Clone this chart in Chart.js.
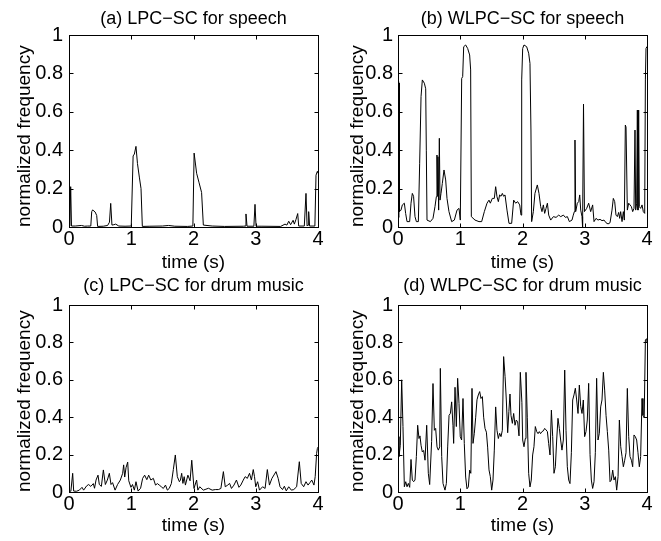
<!DOCTYPE html>
<html>
<head>
<meta charset="utf-8">
<title>LPC-SC vs WLPC-SC</title>
<script src="https://cdn.jsdelivr.net/npm/chart.js@4.4.0/dist/chart.umd.min.js"></script>
<style>
  html, body { margin: 0; padding: 0; background: #fff; }
  #wrap { position: relative; width: 661px; height: 541px; overflow: hidden; }
  canvas { position: absolute; }
</style>
</head>
<body>
<div id="wrap">
  <canvas id="plotA" width="330" height="275" style="left:0;top:0"></canvas>
  <canvas id="plotB" width="331" height="275" style="left:330px;top:0"></canvas>
  <canvas id="plotC" width="330" height="271" style="left:0;top:270px"></canvas>
  <canvas id="plotD" width="331" height="271" style="left:330px;top:270px"></canvas>
</div>
<script>
// tick labels
const xTicks = [0, 1, 2, 3, 4];
const yTicks = [0, 0.2, 0.4, 0.6, 0.8, 1];

// (a) LPC-SC for speech
const speechLpcTime = [0, 0.015, 0.027, 0.04, 0.1, 0.2, 0.25, 0.3, 0.35, 0.365, 0.38, 0.42, 0.445, 0.46, 0.55, 0.62, 0.65, 0.67, 0.69, 0.72, 0.75, 0.8, 0.9, 1.0, 1.03, 1.05, 1.076, 1.1, 1.13, 1.157, 1.178, 1.3, 1.5, 1.6, 1.7, 1.9, 1.99, 2.01, 2.05, 2.09, 2.13, 2.158, 2.3, 2.5, 2.8, 2.83, 2.843, 2.86, 2.97, 2.988, 3.005, 3.1, 3.4, 3.47, 3.5, 3.53, 3.56, 3.6, 3.62, 3.647, 3.674, 3.69, 3.78, 3.807, 3.825, 3.84, 3.85, 3.865, 3.95, 3.968, 3.99, 4.0];
const speechLpcValue = [0.005, 0.01, 0.21, 0.005, 0.005, 0.008, 0.004, 0.005, 0.005, 0.08, 0.089, 0.078, 0.06, 0.003, 0.004, 0.008, 0.025, 0.123, 0.01, 0.012, 0.015, 0.005, 0.004, 0.005, 0.37, 0.38, 0.42, 0.33, 0.26, 0.2, 0.003, 0.004, 0.005, 0.008, 0.004, 0.003, 0.005, 0.385, 0.28, 0.23, 0.18, 0.01, 0.005, 0.003, 0.004, 0.005, 0.068, 0.004, 0.004, 0.118, 0.004, 0.004, 0.003, 0.015, 0.01, 0.03, 0.012, 0.035, 0.015, 0.04, 0.07, 0.005, 0.005, 0.175, 0.005, 0.01, 0.08, 0.005, 0.005, 0.27, 0.29, 0.28];

// (b) WLPC-SC for speech
const speechWlpcTime = [0, 0.005, 0.012, 0.016, 0.02, 0.024, 0.048, 0.07, 0.102, 0.123, 0.145, 0.187, 0.209, 0.23, 0.25, 0.273, 0.295, 0.327, 0.348, 0.37, 0.391, 0.423, 0.445, 0.455, 0.466, 0.52, 0.562, 0.594, 0.616, 0.626, 0.637, 0.642, 0.653, 0.664, 0.675, 0.691, 0.712, 0.739, 0.766, 0.787, 0.819, 0.862, 0.905, 0.948, 0.98, 1.001, 1.023, 1.039, 1.055, 1.087, 1.119, 1.151, 1.167, 1.178, 1.237, 1.301, 1.344, 1.387, 1.43, 1.462, 1.483, 1.515, 1.547, 1.569, 1.59, 1.612, 1.633, 1.655, 1.676, 1.697, 1.719, 1.751, 1.783, 1.826, 1.858, 1.89, 1.922, 1.955, 1.976, 1.987, 2.003, 2.024, 2.067, 2.099, 2.12, 2.136, 2.147, 2.174, 2.2, 2.238, 2.265, 2.292, 2.313, 2.335, 2.356, 2.378, 2.4, 2.421, 2.453, 2.496, 2.539, 2.582, 2.614, 2.657, 2.689, 2.721, 2.753, 2.795, 2.816, 2.833, 2.843, 2.854, 2.881, 2.903, 2.919, 2.935, 2.956, 2.965, 2.98, 2.995, 3.031, 3.063, 3.095, 3.127, 3.149, 3.181, 3.213, 3.245, 3.277, 3.31, 3.342, 3.374, 3.406, 3.438, 3.459, 3.481, 3.502, 3.524, 3.545, 3.561, 3.577, 3.599, 3.62, 3.636, 3.652, 3.663, 3.684, 3.706, 3.727, 3.749, 3.77, 3.791, 3.807, 3.818, 3.834, 3.845, 3.855, 3.866, 3.877, 3.898, 3.92, 3.941, 3.963, 3.974, 3.984, 4.0];
const speechWlpcValue = [0.08, 0.05, 0.757, 0.05, 0.75, 0.08, 0.088, 0.115, 0.124, 0.07, 0.028, 0.028, 0.124, 0.175, 0.16, 0.054, 0.028, 0.028, 0.332, 0.679, 0.766, 0.749, 0.72, 0.4, 0.036, 0.028, 0.045, 0.106, 0.158, 0.375, 0.16, 0.366, 0.088, 0.462, 0.14, 0.175, 0.227, 0.297, 0.245, 0.149, 0.08, 0.028, 0.036, 0.088, 0.097, 0.036, 0.774, 0.783, 0.939, 0.948, 0.93, 0.896, 0.818, 0.054, 0.036, 0.028, 0.028, 0.08, 0.124, 0.14, 0.124, 0.149, 0.149, 0.21, 0.158, 0.132, 0.167, 0.16, 0.175, 0.16, 0.167, 0.088, 0.019, 0.019, 0.14, 0.124, 0.132, 0.115, 0.062, 0.766, 0.93, 0.948, 0.939, 0.905, 0.852, 0.5, 0.028, 0.08, 0.175, 0.219, 0.175, 0.106, 0.08, 0.115, 0.071, 0.097, 0.124, 0.062, 0.036, 0.054, 0.05, 0.062, 0.054, 0.062, 0.05, 0.054, 0.028, 0.036, 0.062, 0.08, 0.453, 0.08, 0.124, 0.132, 0.167, 0.088, 0.054, 0.0, 0.64, 0.08, 0.097, 0.124, 0.08, 0.115, 0.028, 0.045, 0.036, 0.04, 0.033, 0.036, 0.022, 0.016, 0.022, 0.088, 0.149, 0.132, 0.062, 0.054, 0.076, 0.045, 0.08, 0.028, 0.08, 0.036, 0.531, 0.52, 0.088, 0.124, 0.115, 0.106, 0.08, 0.097, 0.505, 0.088, 0.124, 0.609, 0.088, 0.609, 0.106, 0.097, 0.115, 0.08, 0.071, 0.766, 0.93, 0.94];

// (c) LPC-SC for drum music
const drumLpcTime = [0, 0.03, 0.059, 0.075, 0.12, 0.166, 0.209, 0.235, 0.284, 0.316, 0.35, 0.391, 0.41, 0.434, 0.466, 0.487, 0.52, 0.552, 0.584, 0.616, 0.648, 0.675, 0.7, 0.74, 0.78, 0.825, 0.862, 0.878, 0.895, 0.916, 0.943, 0.96, 0.995, 1.02, 1.05, 1.076, 1.11, 1.15, 1.183, 1.215, 1.25, 1.28, 1.315, 1.355, 1.39, 1.42, 1.45, 1.483, 1.515, 1.55, 1.58, 1.61, 1.644, 1.676, 1.708, 1.74, 1.773, 1.79, 1.81, 1.83, 1.85, 1.87, 1.91, 1.945, 1.972, 2.008, 2.05, 2.07, 2.1, 2.158, 2.2, 2.24, 2.3, 2.35, 2.4, 2.44, 2.48, 2.51, 2.55, 2.58, 2.61, 2.65, 2.69, 2.73, 2.76, 2.8, 2.83, 2.865, 2.9, 2.93, 2.96, 2.98, 3.0, 3.03, 3.06, 3.11, 3.15, 3.186, 3.22, 3.26, 3.293, 3.325, 3.36, 3.39, 3.43, 3.46, 3.49, 3.53, 3.572, 3.61, 3.657, 3.7, 3.73, 3.77, 3.807, 3.84, 3.87, 3.9, 3.935, 3.955, 3.978, 3.99, 4.0];
const drumLpcValue = [0.005, 0.004, 0.1, 0.005, 0.004, 0.01, 0.025, 0.01, 0.033, 0.04, 0.03, 0.045, 0.02, 0.064, 0.09, 0.04, 0.03, 0.118, 0.04, 0.064, 0.1, 0.04, 0.05, 0.01, 0.04, 0.064, 0.1, 0.145, 0.08, 0.13, 0.16, 0.06, 0.025, 0.04, 0.01, 0.055, 0.005, 0.02, 0.073, 0.09, 0.066, 0.09, 0.064, 0.073, 0.037, 0.045, 0.037, 0.028, 0.019, 0.037, 0.01, 0.019, 0.045, 0.12, 0.198, 0.082, 0.055, 0.064, 0.1, 0.046, 0.082, 0.037, 0.09, 0.06, 0.17, 0.019, 0.064, 0.01, 0.028, 0.01, 0.015, 0.02, 0.01, 0.013, 0.013, 0.019, 0.109, 0.028, 0.037, 0.046, 0.019, 0.037, 0.064, 0.025, 0.037, 0.064, 0.082, 0.073, 0.1, 0.064, 0.12, 0.082, 0.028, 0.055, 0.01, 0.028, 0.019, 0.12, 0.037, 0.073, 0.091, 0.109, 0.073, 0.028, 0.013, 0.031, 0.006, 0.028, 0.01, 0.013, 0.028, 0.162, 0.046, 0.028, 0.055, 0.037, 0.05, 0.064, 0.037, 0.082, 0.207, 0.233, 0.24];

// (d) WLPC-SC for drum music
const drumWlpcTime = [0, 0.016, 0.037, 0.059, 0.08, 0.102, 0.124, 0.145, 0.166, 0.188, 0.209, 0.23, 0.252, 0.273, 0.295, 0.316, 0.337, 0.353, 0.37, 0.391, 0.412, 0.434, 0.461, 0.487, 0.509, 0.54, 0.562, 0.584, 0.605, 0.627, 0.648, 0.67, 0.68, 0.702, 0.723, 0.755, 0.777, 0.798, 0.82, 0.841, 0.862, 0.883, 0.894, 0.916, 0.937, 0.958, 0.98, 1.0, 1.022, 1.044, 1.065, 1.087, 1.108, 1.13, 1.151, 1.17, 1.189, 1.205, 1.226, 1.248, 1.269, 1.29, 1.312, 1.333, 1.355, 1.376, 1.398, 1.42, 1.44, 1.462, 1.483, 1.505, 1.526, 1.547, 1.569, 1.59, 1.612, 1.633, 1.655, 1.676, 1.697, 1.72, 1.74, 1.762, 1.781, 1.799, 1.815, 1.837, 1.858, 1.88, 1.9, 1.922, 1.944, 1.965, 1.99, 2.003, 2.024, 2.045, 2.056, 2.077, 2.099, 2.12, 2.141, 2.163, 2.184, 2.206, 2.228, 2.25, 2.27, 2.29, 2.313, 2.335, 2.356, 2.378, 2.4, 2.42, 2.442, 2.464, 2.485, 2.506, 2.528, 2.549, 2.57, 2.592, 2.613, 2.634, 2.656, 2.678, 2.699, 2.72, 2.742, 2.763, 2.785, 2.806, 2.827, 2.849, 2.87, 2.892, 2.913, 2.935, 2.956, 2.977, 2.998, 3.02, 3.041, 3.063, 3.085, 3.106, 3.127, 3.149, 3.17, 3.191, 3.213, 3.234, 3.256, 3.277, 3.299, 3.32, 3.342, 3.363, 3.385, 3.406, 3.427, 3.449, 3.47, 3.492, 3.513, 3.535, 3.556, 3.578, 3.599, 3.62, 3.642, 3.663, 3.684, 3.706, 3.727, 3.749, 3.77, 3.791, 3.812, 3.834, 3.855, 3.877, 3.898, 3.92, 3.935, 3.955, 3.974, 3.995, 4.0];
const drumWlpcValue = [0.296, 0.19, 0.25, 0.6, 0.35, 0.028, 0.055, 0.028, 0.046, 0.025, 0.174, 0.064, 0.055, 0.064, 0.19, 0.357, 0.286, 0.3, 0.25, 0.214, 0.222, 0.17, 0.357, 0.1, 0.04, 0.27, 0.58, 0.33, 0.34, 0.241, 0.224, 0.241, 0.661, 0.19, 0.046, 0.01, 0.046, 0.241, 0.41, 0.42, 0.482, 0.357, 0.26, 0.56, 0.35, 0.608, 0.474, 0.296, 0.278, 0.5, 0.26, 0.08, 0.017, 0.027, 0.117, 0.1, 0.554, 0.26, 0.314, 0.4, 0.493, 0.519, 0.537, 0.5, 0.51, 0.4, 0.34, 0.32, 0.24, 0.118, 0.082, 0.01, 0.064, 0.224, 0.455, 0.33, 0.286, 0.314, 0.296, 0.33, 0.724, 0.617, 0.492, 0.317, 0.43, 0.524, 0.41, 0.367, 0.42, 0.357, 0.385, 0.375, 0.3, 0.64, 0.48, 0.278, 0.242, 0.286, 0.64, 0.4, 0.1, 0.027, 0.064, 0.198, 0.242, 0.35, 0.323, 0.312, 0.323, 0.312, 0.323, 0.327, 0.34, 0.332, 0.323, 0.26, 0.198, 0.438, 0.296, 0.1, 0.135, 0.278, 0.394, 0.34, 0.278, 0.224, 0.278, 0.652, 0.33, 0.135, 0.064, 0.045, 0.21, 0.492, 0.519, 0.555, 0.492, 0.42, 0.572, 0.457, 0.42, 0.492, 0.296, 0.323, 0.385, 0.581, 0.2, 0.064, 0.019, 0.055, 0.21, 0.608, 0.278, 0.314, 0.455, 0.492, 0.64, 0.545, 0.41, 0.323, 0.224, 0.055, 0.064, 0.117, 0.064, 0.082, 0.01, 0.082, 0.385, 0.242, 0.19, 0.135, 0.17, 0.21, 0.554, 0.296, 0.19, 0.17, 0.135, 0.305, 0.296, 0.278, 0.21, 0.135, 0.19, 0.5, 0.41, 0.4, 0.813, 0.82, 0.8];

const FONT = "'Liberation Sans', Arial, Helvetica, sans-serif";

// MATLAB style box with inward ticks on all four sides
const matlabBox = {
  id: 'matlabBox',
  afterDatasetsDraw(chart) {
    const { ctx, chartArea: a, scales: { x, y } } = chart;
    const L = Math.round(a.left) + 0.5, R = Math.round(a.right) + 0.5;
    const T = Math.round(a.top) + 0.5, B = Math.round(a.bottom) + 0.5;
    const len = 4;
    ctx.save();
    ctx.strokeStyle = '#000';
    ctx.lineWidth = 1;
    ctx.strokeRect(L, T, R - L, B - T);
    ctx.beginPath();
    xTicks.forEach(v => {
      const px = Math.round(x.getPixelForValue(v)) + 0.5;
      ctx.moveTo(px, B); ctx.lineTo(px, B - len);
      ctx.moveTo(px, T); ctx.lineTo(px, T + len);
    });
    yTicks.forEach(v => {
      const py = Math.round(y.getPixelForValue(v)) + 0.5;
      ctx.moveTo(L, py); ctx.lineTo(L + len, py);
      ctx.moveTo(R, py); ctx.lineTo(R - len, py);
    });
    ctx.stroke();
    ctx.restore();
  }
};

function makePlot(id, title, times, values, box) {
  const pts = times.map((t, i) => ({ x: t, y: values[i] }));
  const tickFont = { family: FONT, size: 20, lineHeight: 1.2 };
  const labelFont = { family: FONT, size: 19, lineHeight: 1.2 };
  new Chart(document.getElementById(id), {
    type: 'line',
    data: {
      datasets: [{
        data: pts,
        borderColor: '#000',
        borderWidth: 1,
        pointRadius: 0,
        tension: 0,
        fill: false
      }]
    },
    options: {
      responsive: false,
      animation: false,
      events: [],
      layout: { padding: { left: 0, right: box.padRight, top: 0, bottom: 0 } },
      plugins: {
        legend: { display: false },
        tooltip: { enabled: false },
        title: {
          display: true,
          text: title,
          fullSize: false,
          color: '#000',
          font: { family: FONT, size: 18, weight: 'normal', lineHeight: 1.2 },
          padding: { top: box.titleTop, bottom: box.titleBottom }
        }
      },
      scales: {
        x: {
          type: 'linear',
          min: 0,
          max: 4,
          afterBuildTicks: s => { s.ticks = xTicks.map(v => ({ value: v })); },
          ticks: { color: '#000', font: tickFont, padding: box.xTickPad, maxRotation: 0, callback: v => String(v) },
          grid: { display: false, drawTicks: false, tickLength: 0 },
          border: { display: false },
          title: { display: true, text: 'time (s)', color: '#000', font: labelFont, padding: { top: 0, bottom: box.xTitleBottom } },
          afterFit: s => { s.height = box.xHeight; }
        },
        y: {
          min: 0,
          max: 1,
          afterBuildTicks: s => { s.ticks = yTicks.map(v => ({ value: v })); },
          ticks: { color: '#000', font: tickFont, padding: box.yTickPad, callback: v => String(v) },
          grid: { display: false, drawTicks: false, tickLength: 0 },
          border: { display: false },
          title: { display: true, text: 'normalized frequency', align: 'start', color: '#000', font: labelFont, padding: { top: box.yTitleTop, bottom: 0 } },
          afterFit: s => { s.width = box.yWidth; }
        }
      }
    },
    plugins: [matlabBox]
  });
}

const topLeft = { padRight: 12, yWidth: 69, yTickPad: 6, yTitleTop: 13.6, titleTop: 8.5, titleBottom: 4.9, xHeight: 48, xTickPad: 0, xTitleBottom: 0.6 };
const topRight = { padRight: 14, yWidth: 68, yTickPad: 5, yTitleTop: 16.6, titleTop: 8.5, titleBottom: 4.9, xHeight: 48, xTickPad: 0, xTitleBottom: 0.6 };
const botLeft = { padRight: 12, yWidth: 69, yTickPad: 6, yTitleTop: 13.6, titleTop: 5, titleBottom: 8.4, xHeight: 49, xTickPad: 0, xTitleBottom: 3.6 };
const botRight = { padRight: 14, yWidth: 68, yTickPad: 5, yTitleTop: 16.6, titleTop: 5, titleBottom: 8.4, xHeight: 49, xTickPad: 0, xTitleBottom: 3.6 };

makePlot('plotA', '(a) LPC\u2212SC for speech', speechLpcTime, speechLpcValue, topLeft);
makePlot('plotB', '(b) WLPC\u2212SC for speech', speechWlpcTime, speechWlpcValue, topRight);
makePlot('plotC', '(c) LPC\u2212SC for drum music', drumLpcTime, drumLpcValue, botLeft);
makePlot('plotD', '(d) WLPC\u2212SC for drum music', drumWlpcTime, drumWlpcValue, botRight);
</script>
</body>
</html>
